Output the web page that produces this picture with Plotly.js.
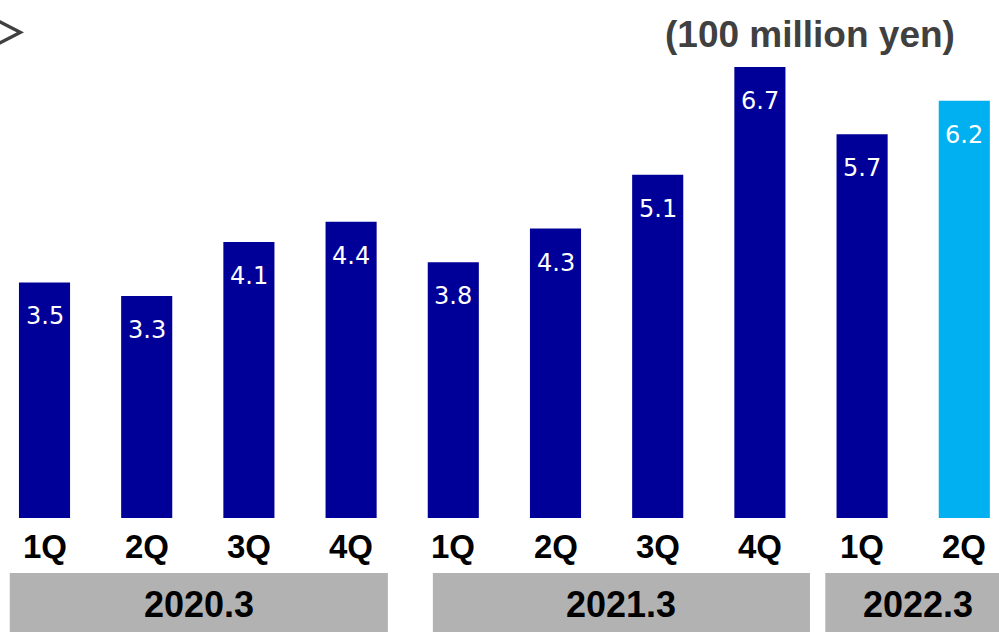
<!DOCTYPE html>
<html>
<head>
<meta charset="utf-8">
<script src="https://cdn.plot.ly/plotly-3.0.1.min.js"></script>
<style>
html,body{margin:0;padding:0;background:#fff;}
#chart{width:999px;height:632px;}
</style>
</head>
<body>
<div id="chart"></div>
<script>
// ---- data ----
const quarters = ["1Q","2Q","3Q","4Q","1Q","2Q","3Q","4Q","1Q","2Q"];
const values   = [3.5, 3.3, 4.1, 4.4, 3.8, 4.3, 5.1, 6.7, 5.7, 6.2];
const barColors = ["#000099","#000099","#000099","#000099","#000099","#000099","#000099","#000099","#000099","#00B0F0"];
const groupLabels = ["2020.3","2021.3","2022.3"];
const groupFirst  = [0, 4, 8];
const groupLast   = [3, 7, 9];
const unitLabel = "(100 million yen)";

const idx = values.map((v,i)=>i);

const trace = {
  type: "bar",
  x: idx,
  y: values,
  marker: {color: barColors},
  hoverinfo: "none",
  showlegend: false
};

const annotations = [];
// value labels inside bars
values.forEach((v,i)=>{
  annotations.push({
    x: i, y: v, xref: "x", yref: "y",
    text: v.toFixed(1), showarrow: false,
    yanchor: "middle", yshift: -34,
    font: {family: "DejaVu Sans, Verdana, sans-serif", size: 24, color: "#ffffff"}
  });
});
// quarter labels
quarters.forEach((q,i)=>{
  annotations.push({
    x: i, y: 0, xref: "x", yref: "y",
    text: "<b>"+q+"</b>", showarrow: false,
    yanchor: "middle", yshift: -28,
    font: {family: "Liberation Sans, Arial, sans-serif", size: 33, color: "#000000"}
  });
});

// group boxes
const shapes = [];
const padL = [0.34, 0.20, 0.36];
const padR = [0.36, 0.49, 0.45];
groupLabels.forEach((g,k)=>{
  const x0 = groupFirst[k]-padL[k], x1 = groupLast[k]+padR[k];
  shapes.push({
    type: "rect", xref: "x", yref: "paper",
    x0: x0, x1: x1, y0: -0.2216, y1: -0.1062,
    fillcolor: "#B2B2B2", line: {width: 0}, layer: "below"
  });
  annotations.push({
    x: (x0+x1)/2, y: -0.167, xref: "x", yref: "paper",
    text: "<b>"+g+"</b>", showarrow: false,
    xanchor: "center", yanchor: "middle",
    font: {family: "Liberation Sans, Arial, sans-serif", size: 36, color: "#000000"}
  });
});

// unit label
annotations.push({
  x: 957/999, y: 1 - 35/518, xref: "paper", yref: "paper",
  text: "<b>"+unitLabel+"</b>", showarrow: false,
  xanchor: "right", yanchor: "middle",
  font: {family: "Liberation Sans, Arial, sans-serif", size: 37, color: "#404040"}
});
// cropped chevron at top-left
annotations.push({
  x: 31/999, y: 1 - 29/518, xref: "paper", yref: "paper",
  text: "＞", showarrow: false,
  xanchor: "right", yanchor: "middle",
  font: {family: "Noto Sans CJK JP, sans-serif", size: 50, color: "#404040"}
});

const layout = {
  width: 999, height: 632,
  margin: {l: 0, r: 0, t: 0, b: 114, pad: 0},
  paper_bgcolor: "#ffffff", plot_bgcolor: "#ffffff",
  bargap: 0.5,
  xaxis: {range: [-0.4354, 9.3395], showticklabels: false, showgrid: false, zeroline: false, showline: false, ticks: "", fixedrange: true},
  yaxis: {range: [0, 7.696], showticklabels: false, showgrid: false, zeroline: false, showline: false, ticks: "", fixedrange: true},
  shapes: shapes,
  annotations: annotations
};

Plotly.newPlot("chart", [trace], layout, {displayModeBar: false, staticPlot: true});
</script>
</body>
</html>
